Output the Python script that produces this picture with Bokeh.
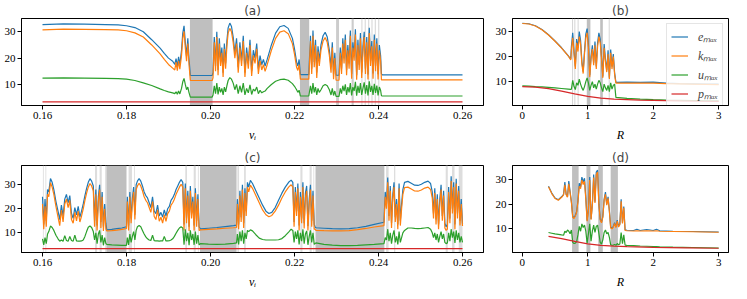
from bokeh.plotting import figure
from bokeh.layouts import row, column
from bokeh.models import Range1d, FixedTicker, Legend, LegendItem, NumeralTickFormatter
from bokeh.embed import file_html
from bokeh.resources import INLINE

C_E, C_K, C_U, C_P = "#1f77b4", "#ff7f0e", "#2ca02c", "#d62728"

# ---------------- panel (a) : vs v_i ----------------
va = ([0.160, 0.165, 0.170, 0.175, 0.178, 0.180, 0.182, 0.184, 0.186, 0.188, 0.189, 0.190, 0.191]
      + [0.1915, 0.1918, 0.1921, 0.1924, 0.1927, 0.1931, 0.1934, 0.1937, 0.1940, 0.1943, 0.1946, 0.1949]
      + [0.1952, 0.2004]
      + [0.2006, 0.2009, 0.2012, 0.2015, 0.2018, 0.2021, 0.2024, 0.2027, 0.2030, 0.2033, 0.2036, 0.2039, 0.2042, 0.2046, 0.2050, 0.2054]
      + [0.2058, 0.2062, 0.2066, 0.2070, 0.2074, 0.2078, 0.2082, 0.2086, 0.2090, 0.2094, 0.2098, 0.2102, 0.2106, 0.2110, 0.2114, 0.2118, 0.2122, 0.2126, 0.2130]
      + [0.2135, 0.2145, 0.2155, 0.2165, 0.2175, 0.2185, 0.2195, 0.2200, 0.2205]
      + [0.2208, 0.2211, 0.2214, 0.2234]
      + [0.2238, 0.2241, 0.2244, 0.2247, 0.2250, 0.2253, 0.2256, 0.2259, 0.2263, 0.2268, 0.2273, 0.2278, 0.2283, 0.2287, 0.2290, 0.2293, 0.2296, 0.2299, 0.2306]
      + [0.2309, 0.2312, 0.2315, 0.2318, 0.2321, 0.2324, 0.2327, 0.2330, 0.2333, 0.2336, 0.2339, 0.2342, 0.2345, 0.2348, 0.2351, 0.2354, 0.2357, 0.2360, 0.2363, 0.2366,
         0.2369, 0.2372, 0.2375, 0.2378, 0.2381, 0.2384, 0.2387, 0.2390, 0.2393, 0.2396, 0.2399, 0.2402, 0.2405, 0.2407]
      + [0.2409, 0.2600])
ea = ([32.7, 33.0, 32.9, 32.7, 32.6, 32.3, 31.6, 30.0, 27.0, 23.8, 21.8, 20.0, 18.8]
      + [17.6, 19.8, 16.9, 20.5, 17.5, 23.0, 29.5, 32.3, 26.0, 20.8, 27.5, 19.5]
      + [13.4, 13.4]
      + [14.5, 28.0, 17.0, 30.0, 15.5, 27.5, 19.0, 24.0, 14.5, 25.5, 18.0, 26.5, 31.5, 33.3, 32.0, 28.0]
      + [22.0, 27.5, 16.5, 26.0, 19.0, 28.5, 14.5, 24.0, 18.0, 27.0, 15.0, 23.0, 20.0, 25.5, 16.0, 21.0, 17.5, 19.5, 17.0]
      + [19.5, 25.0, 29.5, 31.9, 32.4, 31.3, 27.5, 23.5, 18.5]
      + [17.0, 19.5, 13.7, 13.7]
      + [28.5, 16.0, 30.5, 18.5, 27.0, 14.5, 24.5, 19.0, 25.0, 28.5, 29.8, 28.0, 23.0, 16.5, 26.0, 14.0, 22.0, 13.5, 13.5]
      + [24.0, 16.0, 27.5, 20.0, 29.0, 15.5, 25.0, 18.0, 30.5, 14.0, 26.0, 21.0, 31.0, 13.5, 27.0, 17.5, 29.5, 14.5, 24.5, 30.0,
         16.0, 28.0, 13.8, 31.5, 19.0, 26.5, 14.2, 29.0, 17.0, 27.5, 13.9, 25.0, 21.0, 14.0]
      + [13.6, 13.6])
ka = ([30.7, 31.0, 30.9, 30.8, 30.7, 30.4, 29.6, 28.0, 25.0, 21.6, 19.5, 17.6, 16.2]
      + [15.5, 18.5, 15.2, 19.0, 15.8, 21.0, 27.5, 30.2, 24.0, 18.8, 25.5, 17.2]
      + [11.5, 11.5]
      + [12.5, 26.0, 15.0, 28.0, 13.5, 25.5, 17.0, 22.0, 12.8, 23.5, 16.0, 24.5, 29.5, 31.3, 30.0, 26.0]
      + [20.0, 25.5, 14.5, 24.0, 17.0, 26.5, 12.8, 22.0, 16.0, 25.0, 13.2, 21.0, 18.0, 23.5, 14.0, 19.0, 15.5, 17.5, 15.0]
      + [17.5, 23.0, 27.5, 29.9, 30.4, 29.3, 25.5, 21.5, 16.5]
      + [15.3, 17.5, 12.0, 12.0]
      + [26.5, 14.0, 28.5, 16.5, 25.0, 12.5, 22.5, 17.0, 23.0, 26.5, 27.8, 26.0, 21.0, 14.5, 24.0, 12.0, 20.0, 11.6, 11.6]
      + [22.0, 14.0, 25.5, 18.0, 27.0, 13.5, 23.0, 16.0, 28.5, 12.2, 24.0, 19.0, 29.0, 11.8, 25.0, 15.5, 27.5, 12.5, 22.5, 28.0,
         14.0, 26.0, 11.9, 29.5, 17.0, 24.5, 12.2, 27.0, 15.0, 25.5, 11.9, 23.0, 19.0, 11.7]
      + [11.7, 11.7])
ua = ([12.4, 12.5, 12.4, 12.3, 12.2, 12.0, 11.5, 10.6, 9.6, 8.3, 7.7, 7.2, 6.8]
      + [6.5, 7.2, 6.3, 7.5, 6.4, 8.5, 11.0, 12.3, 10.0, 8.0, 9.0, 6.8]
      + [5.2, 5.2]
      + [6.0, 9.5, 6.5, 10.5, 6.2, 9.0, 7.0, 8.5, 6.0, 9.0, 7.2, 9.5, 11.5, 12.6, 12.0, 10.5]
      + [8.0, 10.0, 6.5, 9.5, 7.0, 10.5, 6.0, 8.5, 6.8, 9.8, 6.2, 8.2, 7.5, 9.0, 6.5, 7.8, 6.8, 7.2, 7.5]
      + [8.5, 10.0, 11.2, 11.8, 12.0, 11.6, 10.3, 9.3, 8.0]
      + [7.0, 7.8, 5.6, 5.6]
      + [9.5, 6.5, 10.5, 7.0, 9.0, 6.0, 8.5, 7.0, 8.0, 9.5, 10.0, 9.5, 8.0, 6.0, 8.5, 5.8, 7.5, 5.5, 5.5]
      + [8.5, 6.5, 9.5, 7.5, 10.0, 6.0, 9.0, 7.0, 10.5, 5.8, 9.0, 7.5, 11.0, 5.7, 9.5, 6.8, 10.5, 6.0, 8.5, 10.8,
         6.5, 9.8, 5.8, 11.2, 7.2, 9.5, 6.0, 10.2, 6.8, 9.6, 5.8, 9.0, 7.8, 5.7]
      + [5.6, 5.6])
pa_v = [0.160, 0.260]
pa = [3.4, 3.4]
bands_a_dark = [(0.1951, 0.2005), (0.2213, 0.2235)]
bands_a_mid = [(0.2299, 0.2306), (0.2336, 0.2341)]
bands_a_light = [(0.2359, 0.2362), (0.2367, 0.2370), (0.2375, 0.2378), (0.2383, 0.2386), (0.2391, 0.2394), (0.2399, 0.2402)]

# ---------------- panel (c) : vs v_i ----------------
vc = ([0.1600, 0.1603, 0.1606, 0.1609, 0.1612, 0.1615, 0.1619, 0.1623]
      + [0.1627, 0.1632, 0.1637, 0.1641, 0.1645, 0.1649, 0.1653, 0.1657, 0.1661, 0.1665, 0.1669, 0.1673, 0.1677, 0.1681, 0.1685, 0.1689,
         0.1693, 0.1697, 0.1701, 0.1705, 0.1709, 0.1713, 0.1717, 0.1721]
      + [0.1724, 0.1727, 0.1730, 0.1733, 0.1736, 0.1739, 0.1742, 0.1745, 0.1748, 0.1751]
      + [0.1753, 0.1765, 0.1777, 0.1789, 0.1800]
      + [0.1802, 0.1805, 0.1808, 0.1811, 0.1814, 0.1817, 0.1820, 0.1823, 0.1826, 0.1830]
      + [0.1834, 0.1838, 0.1842, 0.1846, 0.1850, 0.1854, 0.1858, 0.1862, 0.1866, 0.1870, 0.1874, 0.1878, 0.1882, 0.1886, 0.1890, 0.1894,
         0.1898, 0.1902, 0.1906, 0.1910, 0.1914, 0.1918, 0.1922, 0.1926, 0.1930, 0.1934]
      + [0.1937, 0.1940, 0.1943, 0.1946, 0.1949, 0.1952, 0.1955, 0.1958, 0.1961, 0.1964, 0.1967, 0.1970, 0.1973]
      + [0.1976, 0.1995, 0.2015, 0.2035, 0.2055, 0.2062]
      + [0.2064, 0.2067, 0.2070, 0.2073, 0.2076, 0.2079, 0.2082, 0.2085, 0.2088, 0.2091, 0.2095]
      + [0.2100, 0.2108, 0.2116, 0.2124, 0.2132, 0.2139, 0.2146, 0.2154, 0.2162, 0.2170, 0.2178, 0.2186, 0.2192, 0.2196]
      + [0.2199, 0.2202, 0.2205, 0.2208, 0.2211, 0.2214, 0.2217, 0.2220, 0.2223, 0.2226, 0.2229, 0.2232, 0.2235, 0.2238, 0.2241, 0.2244,
         0.2247, 0.2249]
      + [0.2251, 0.2270, 0.2290, 0.2310, 0.2330, 0.2350, 0.2370, 0.2390, 0.2413]
      + [0.2416, 0.2419, 0.2422, 0.2425, 0.2428, 0.2431, 0.2434, 0.2437, 0.2440, 0.2443, 0.2446, 0.2449, 0.2452, 0.2455, 0.2458]
      + [0.2462, 0.2470, 0.2478, 0.2486, 0.2494, 0.2502, 0.2510, 0.2518, 0.2524, 0.2528]
      + [0.2531, 0.2534, 0.2537, 0.2540, 0.2543, 0.2546, 0.2549, 0.2552, 0.2555, 0.2558, 0.2561, 0.2564, 0.2567, 0.2570, 0.2573, 0.2576,
         0.2579, 0.2582, 0.2585, 0.2588, 0.2591, 0.2594, 0.2597, 0.2600])
ec = ([25.0, 13.5, 24.0, 15.0, 28.0, 27.0, 32.6, 31.0]
      + [28.0, 23.0, 19.0, 15.5, 21.5, 17.0, 24.0, 26.0, 22.5, 25.5, 18.0, 16.0, 20.5, 17.5, 21.0, 16.5, 19.0, 22.0, 25.5, 28.5,
         31.0, 32.5, 31.5, 29.5]
      + [15.0, 28.0, 13.0, 25.0, 30.0, 14.5, 27.0, 12.5, 22.0, 14.0]
      + [11.2, 11.4, 11.7, 12.0, 12.5]
      + [25.0, 13.0, 27.0, 16.0, 24.5, 29.0, 17.5, 30.0, 31.5, 32.6]
      + [31.5, 29.5, 27.0, 25.5, 24.5, 22.5, 20.5, 25.0, 19.0, 18.0, 21.5, 17.0, 18.5, 16.5, 19.5, 17.0, 20.0, 21.0, 23.5, 24.5,
         26.0, 28.0, 29.5, 31.0, 32.2, 31.0]
      + [13.5, 30.5, 16.0, 27.5, 12.5, 29.5, 18.0, 25.0, 13.0, 28.5, 15.0, 26.0, 12.5]
      + [11.6, 11.9, 12.2, 12.6, 13.0, 13.2]
      + [24.0, 13.5, 27.5, 16.5, 30.0, 14.0, 28.5, 19.0, 31.0, 29.0, 31.8]
      + [30.5, 27.5, 24.5, 21.5, 19.0, 18.0, 18.5, 20.5, 23.5, 26.5, 29.0, 31.0, 31.9, 31.0]
      + [14.5, 29.0, 19.0, 30.5, 13.0, 27.0, 16.0, 31.0, 14.0, 26.5, 29.5, 12.8, 24.0, 30.0, 15.0, 27.5, 13.5, 12.5]
      + [12.1, 11.9, 11.7, 11.6, 11.7, 12.1, 12.7, 13.5, 14.4]
      + [27.0, 22.0, 33.0, 17.0, 29.5, 14.0, 26.0, 31.0, 16.5, 24.0, 13.5, 30.5, 15.0, 22.0, 28.0]
      + [31.0, 31.4, 30.6, 29.8, 29.7, 30.2, 31.0, 31.5, 30.5, 27.0]
      + [18.0, 28.5, 15.5, 26.0, 13.5, 24.0, 30.0, 17.0, 27.5, 14.0, 12.5, 13.5, 29.0, 16.0, 33.5, 20.0, 31.0, 13.5, 32.5, 18.0,
         29.5, 15.0, 24.0, 13.8])
kc = ([22.0, 11.5, 21.0, 12.5, 26.0, 25.0, 30.8, 29.0]
      + [26.0, 21.0, 16.5, 13.0, 19.5, 14.5, 22.0, 24.0, 20.5, 23.5, 15.5, 14.0, 18.5, 15.0, 19.0, 14.5, 17.0, 20.0, 23.5, 26.5,
         29.0, 30.5, 29.5, 27.5]
      + [12.5, 26.0, 11.0, 23.0, 28.0, 12.0, 25.0, 10.8, 20.0, 11.5]
      + [10.8, 10.9, 11.1, 11.4, 11.8]
      + [23.0, 11.0, 25.0, 14.0, 22.5, 27.0, 15.5, 28.0, 29.5, 30.6]
      + [29.5, 27.5, 25.0, 23.5, 22.5, 20.5, 18.5, 23.0, 16.8, 15.5, 19.5, 14.8, 16.5, 14.0, 17.5, 14.8, 18.0, 19.0, 21.5, 22.5,
         24.0, 26.0, 27.5, 29.0, 30.2, 29.0]
      + [11.0, 28.5, 14.0, 25.5, 10.8, 27.5, 16.0, 23.0, 11.0, 26.5, 12.5, 24.0, 11.0]
      + [11.2, 11.4, 11.6, 11.9, 12.1, 12.2]
      + [22.0, 11.5, 25.5, 14.5, 28.0, 12.0, 26.5, 17.0, 29.0, 27.0, 29.8]
      + [28.5, 25.5, 22.5, 19.5, 17.5, 16.7, 17.2, 19.0, 21.5, 24.5, 27.0, 29.0, 30.0, 29.0]
      + [12.5, 27.0, 17.0, 28.5, 11.0, 25.0, 14.0, 29.0, 11.8, 24.5, 27.5, 11.0, 22.0, 28.0, 12.5, 25.5, 11.5, 11.5]
      + [11.0, 10.9, 10.8, 10.8, 10.9, 11.3, 11.8, 12.4, 13.0]
      + [25.0, 20.0, 31.0, 15.0, 27.5, 12.0, 24.0, 29.0, 14.5, 22.0, 11.5, 28.5, 13.0, 20.0, 26.0]
      + [28.8, 29.0, 28.2, 27.4, 27.3, 27.8, 28.6, 29.0, 28.0, 24.5]
      + [16.0, 26.5, 13.5, 24.0, 11.5, 22.0, 28.0, 15.0, 25.5, 12.0, 11.0, 11.5, 27.0, 14.0, 31.5, 18.0, 29.0, 11.5, 30.5, 16.0,
         27.5, 13.0, 22.0, 12.8])
uc = ([7.5, 5.0, 8.0, 5.5, 9.5, 10.5, 12.8, 12.2]
      + [11.0, 9.0, 7.5, 6.5, 7.0, 6.5, 8.8, 6.8, 6.5, 8.5, 6.8, 6.5, 9.0, 6.6, 6.5, 6.5, 6.6, 7.0, 8.5, 10.5,
         12.3, 12.8, 12.2, 10.5]
      + [7.0, 10.0, 5.5, 9.5, 11.0, 6.0, 9.0, 4.8, 8.0, 5.5]
      + [5.2, 5.0, 4.9, 4.8, 4.8]
      + [8.0, 5.0, 9.5, 6.0, 8.5, 10.5, 7.0, 11.0, 12.5, 13.0]
      + [12.5, 11.0, 9.5, 8.3, 7.5, 7.0, 6.8, 9.0, 6.7, 6.6, 6.6, 6.5, 6.6, 6.6, 8.5, 6.6, 6.6, 6.7, 7.0, 7.5,
         8.5, 9.8, 11.0, 12.0, 12.5, 12.0]
      + [5.0, 11.5, 6.5, 10.0, 4.8, 11.0, 7.0, 9.5, 5.0, 10.5, 5.5, 9.0, 5.0]
      + [5.5, 5.3, 5.2, 5.3, 5.6, 5.8]
      + [9.5, 5.2, 10.5, 6.5, 11.0, 5.5, 10.0, 7.5, 11.0, 10.5, 11.2]
      + [10.8, 9.2, 7.8, 7.2, 7.0, 7.0, 7.0, 7.0, 7.1, 7.6, 8.8, 10.3, 11.5, 11.0]
      + [6.0, 10.5, 7.5, 11.0, 5.2, 10.0, 6.5, 11.5, 5.5, 9.5, 10.8, 5.0, 8.5, 11.0, 6.0, 10.0, 5.2, 5.5]
      + [5.8, 5.2, 4.9, 4.7, 4.7, 4.8, 5.0, 5.2, 5.5]
      + [8.0, 7.0, 11.5, 6.5, 10.0, 5.5, 9.0, 11.0, 6.0, 8.5, 5.2, 10.5, 6.0, 8.0, 10.0]
      + [11.0, 12.0, 12.0, 11.8, 11.7, 11.8, 12.0, 12.2, 11.5, 10.0]
      + [8.0, 10.0, 7.0, 9.5, 6.0, 8.5, 10.5, 7.5, 9.5, 6.0, 5.5, 5.8, 10.0, 6.5, 11.5, 8.0, 10.5, 5.8, 11.0, 7.0,
         10.0, 6.0, 8.5, 6.0])
pc_v = [0.160, 0.260]
pc = [3.4, 3.4]
bands_c_dark = [(0.1752, 0.1800), (0.1975, 0.2062), (0.2250, 0.2414)]
bands_c_light = [(0.1601, 0.1603), (0.1607, 0.1609), (0.1725, 0.1730), (0.1736, 0.1741), (0.1749, 0.1751),
                 (0.1805, 0.1813), (0.1818, 0.1820), (0.1940, 0.1944), (0.1960, 0.1965), (0.1970, 0.1972),
                 (0.2064, 0.2068), (0.2080, 0.2084), (0.2214, 0.2219), (0.2236, 0.2241), (0.2245, 0.2247),
                 (0.2418, 0.2424), (0.2437, 0.2440), (0.2560, 0.2565), (0.2575, 0.2581), (0.2591, 0.2600)]

# ---------------- panel (b) : vs R ----------------
rb = ([0.0, 0.1, 0.2, 0.3, 0.4, 0.5, 0.6, 0.7, 0.74]
      + [0.75, 0.77, 0.79, 0.81, 0.83, 0.85, 0.87, 0.89, 0.91, 0.93, 0.95, 0.97, 0.99, 1.01, 1.03, 1.05, 1.07, 1.09, 1.11, 1.13,
         1.15, 1.17, 1.19, 1.21, 1.23, 1.25, 1.27, 1.29, 1.31, 1.33, 1.35, 1.37, 1.39, 1.41]
      + [1.43, 1.6, 1.8, 2.0, 2.2, 2.4, 2.6, 2.8, 3.0])
eb = ([33.3, 33.1, 32.3, 30.8, 28.7, 26.2, 23.5, 20.4, 19.0]
      + [24.0, 29.5, 22.0, 16.0, 27.0, 23.5, 30.0, 26.5, 18.0, 14.0, 22.0, 29.0, 31.2, 25.0, 12.5, 20.0, 24.5, 17.5, 26.0, 16.0,
         25.5, 29.5, 27.0, 20.0, 12.0, 25.0, 19.0, 14.5, 22.5, 11.5, 22.8, 16.0, 21.0, 13.5]
      + [9.7, 9.8, 9.7, 9.8, 9.4, 9.2, 9.1, 9.0, 9.0])
kb = ([33.2, 33.0, 32.2, 30.7, 28.6, 26.1, 23.4, 20.3, 18.6]
      + [22.5, 27.5, 21.0, 15.0, 25.5, 22.0, 28.0, 25.0, 17.0, 13.2, 21.0, 27.5, 29.5, 23.5, 11.8, 19.0, 23.0, 16.5, 24.5, 15.0,
         24.0, 28.0, 25.5, 19.0, 11.5, 23.5, 18.0, 13.8, 21.0, 11.0, 21.5, 15.0, 20.0, 12.8]
      + [9.4, 9.4, 9.4, 9.4, 9.2, 9.1, 9.0, 8.9, 8.8])
ub = ([8.3, 8.2, 8.0, 7.9, 7.7, 7.5, 7.25, 7.0, 6.9]
      + [7.0, 10.5, 8.0, 6.8, 9.5, 8.5, 11.0, 9.0, 7.5, 6.5, 8.0, 10.0, 11.5, 9.5, 6.5, 8.5, 10.0, 7.5, 9.0, 7.0,
         9.0, 10.5, 9.5, 7.5, 6.0, 9.0, 7.5, 6.5, 8.5, 6.0, 9.5, 7.0, 8.5, 9.0]
      + [3.7, 3.3, 3.0, 2.8, 2.65, 2.55, 2.45, 2.35, 2.3])
pb_r = [0.0, 0.2, 0.4, 0.6, 0.8, 1.0, 1.2, 1.4, 1.6, 1.8, 2.0, 2.4, 2.8, 3.0]
pb = [8.0, 7.8, 7.2, 6.2, 5.1, 4.1, 3.4, 3.0, 2.8, 2.6, 2.5, 2.3, 2.15, 2.1]
bands_b_dark = [(0.985, 1.04), (1.19, 1.23)]
bands_b_light = [(0.76, 0.775), (0.795, 0.81), (0.845, 0.86), (1.32, 1.335)]

# ---------------- panel (d) : vs R ----------------
rd = [0.40, 0.45, 0.50, 0.55, 0.60, 0.63, 0.65, 0.67, 0.69, 0.71, 0.73, 0.75, 0.77, 0.79, 0.81, 0.83, 0.85, 0.87, 0.89, 0.91,
      0.93, 0.95, 0.97, 0.99, 1.01, 1.03, 1.05, 1.07, 1.09, 1.11, 1.13, 1.15, 1.17, 1.19, 1.21, 1.23, 1.25, 1.27, 1.29, 1.31,
      1.33, 1.35, 1.37, 1.39, 1.41, 1.43, 1.45, 1.47, 1.49, 1.51, 1.53, 1.55, 1.57, 1.60, 1.70, 1.75, 1.80, 1.90, 2.00, 2.05,
      2.10, 2.30, 2.60, 3.00]
ed = [27.3, 24.5, 22.5, 21.8, 23.0, 24.0, 29.0, 24.0, 23.0, 29.4, 25.0, 21.0, 15.0, 14.5, 15.5, 17.0, 21.5, 28.5, 27.0, 31.0,
      29.0, 30.5, 22.7, 13.4, 18.0, 31.0, 14.0, 20.0, 32.0, 21.0, 33.0, 33.8, 20.0, 14.0, 12.7, 15.0, 22.0, 24.9, 20.0, 23.0,
      17.4, 10.6, 10.2, 11.0, 12.5, 10.8, 13.5, 11.0, 12.0, 22.0, 12.5, 19.0, 9.6, 9.4, 9.3, 9.8, 9.3, 9.7, 9.3, 9.8,
      9.2, 9.0, 8.9, 8.7]
kd = [27.1, 24.3, 22.3, 21.6, 22.8, 23.8, 27.8, 23.8, 22.8, 28.3, 24.6, 20.7, 14.7, 14.2, 15.2, 16.7, 21.0, 27.3, 26.3, 29.8,
      28.0, 29.3, 22.0, 13.1, 17.6, 29.8, 13.7, 19.5, 30.8, 20.5, 32.0, 33.0, 19.6, 13.7, 12.4, 14.7, 21.5, 24.0, 19.6, 22.4,
      17.0, 10.3, 10.0, 10.7, 12.2, 10.5, 13.1, 10.7, 11.7, 21.2, 12.2, 18.5, 9.3, 9.2, 9.1, 9.2, 9.1, 9.2, 9.1, 9.2,
      9.0, 8.9, 8.8, 8.6]
ud = [8.5, 8.2, 7.9, 7.7, 7.5, 7.4, 9.0, 8.5, 9.5, 9.0, 8.0, 9.5, 4.5, 4.0, 4.2, 4.8, 7.5, 11.0, 9.0, 12.0,
      10.5, 11.5, 9.0, 4.2, 8.0, 12.0, 5.0, 9.0, 11.5, 8.5, 11.0, 11.5, 8.0, 4.5, 3.8, 5.5, 8.5, 9.5, 8.0, 8.5,
      6.5, 3.5, 3.3, 3.4, 3.6, 3.3, 4.0, 3.5, 3.8, 8.5, 4.0, 7.5, 3.4, 3.3, 3.2, 3.1, 3.0, 2.9, 2.8, 2.75,
      2.7, 2.55, 2.4, 2.2]
pd_r = [0.4, 0.6, 0.8, 1.0, 1.2, 1.4, 1.6, 2.0, 2.5, 3.0]
pd_ = [6.9, 6.0, 4.9, 3.9, 3.3, 2.95, 2.75, 2.45, 2.25, 2.1]
bands_d_dark = [(0.76, 0.86), (0.98, 1.04), (1.16, 1.23), (1.35, 1.46)]

vi_ticks = [0.16, 0.18, 0.20, 0.22, 0.24, 0.26]
r_ticks = [0, 1, 2, 3]
y_ticks = [10, 20, 30]

SERIF = "'Liberation Serif', 'Times New Roman', serif"


def make_fig(title, xr, yr, xticks, xfmt, xlabel, fw, bl, br, bt, bb):
    p = figure(frame_width=fw, frame_height=87, x_range=Range1d(*xr), y_range=Range1d(*yr),
               output_backend="svg", toolbar_location=None, title=title,
               min_border_left=bl, min_border_right=br, min_border_top=bt, min_border_bottom=bb)
    p.title.align = "center"
    p.title.text_font = "DejaVu Sans"
    p.title.text_font_size = "12px"
    p.title.text_font_style = "normal"
    p.title.standoff = 2
    p.grid.visible = False
    p.outline_line_color = "black"
    p.outline_line_width = 1
    p.outline_line_alpha = 1
    p.background_fill_color = "white"
    p.border_fill_color = "white"
    p.xaxis.ticker = FixedTicker(ticks=xticks)
    p.yaxis.ticker = FixedTicker(ticks=y_ticks)
    p.xaxis.formatter = NumeralTickFormatter(format=xfmt)
    p.yaxis.formatter = NumeralTickFormatter(format="0")
    for ax in (p.xaxis, p.yaxis):
        ax.axis_line_color = "black"
        ax.major_tick_line_color = "black"
        ax.major_tick_out = 4
        ax.major_tick_in = 0
        ax.minor_tick_line_color = None
        ax.major_label_text_font = SERIF
        ax.major_label_text_font_size = "11px"
        ax.major_label_text_color = "black"
        ax.major_label_standoff = 2
    p.xaxis.axis_label = xlabel
    p.xaxis.axis_label_text_font = SERIF
    p.xaxis.axis_label_text_font_style = "italic"
    p.xaxis.axis_label_text_font_size = "12px"
    p.xaxis.axis_label_text_color = "black"
    p.xaxis.axis_label_standoff = 6
    return p


def add_bands(p, bands, color, yr):
    if bands:
        p.quad(left=[b[0] for b in bands], right=[b[1] for b in bands],
               bottom=yr[0], top=yr[1], fill_color=color, line_color=None)


def add_lines(p, x, e, k, u, xp, pp):
    r1 = p.line(x, e, color=C_E, line_width=1.2)
    r2 = p.line(x, k, color=C_K, line_width=1.2)
    r3 = p.line(x, u, color=C_U, line_width=1.2)
    r4 = p.line(xp, pp, color=C_P, line_width=1.2)
    return r1, r2, r3, r4


yra = (2.0, 35.05)
pa_fig = make_fig("(a)", (0.155, 0.265), yra, vi_ticks, "0.00", "vᵢ", 462, 21, 5, 18, 42)
add_bands(pa_fig, bands_a_light, "#dddddd", yra)
add_bands(pa_fig, bands_a_mid, "#cccccc", yra)
add_bands(pa_fig, bands_a_dark, "#bfbfbf", yra)
add_lines(pa_fig, va, ea, ka, ua, pa_v, pa)

yrb = (0.45, 35.2)
pb_fig = make_fig("(b)", (-0.15, 3.15), yrb, r_ticks, "0", "R", 216, 24, 6, 18, 42)
add_bands(pb_fig, bands_b_light, "#d4d4d4", yrb)
add_bands(pb_fig, bands_b_dark, "#bfbfbf", yrb)
rs = add_lines(pb_fig, rb, eb, kb, ub, pb_r, pb)
labels = ["eₘₐₓ", "kₘₐₓ", "uₘₐₓ", "pₘₐₓ"]
leg = Legend(items=[LegendItem(label=l, renderers=[r]) for l, r in zip(labels, rs)], location="top_right")
leg.label_text_font = SERIF
leg.label_text_font_style = "italic"
leg.label_text_font_size = "12px"
leg.glyph_width = 17
leg.glyph_height = 13
leg.label_height = 13
leg.spacing = 2
leg.padding = 4
leg.margin = 5
leg.label_standoff = 10
leg.border_line_color = "#cccccc"
leg.background_fill_alpha = 0.8
pb_fig.add_layout(leg)

yrc = (1.8, 38.0)
pc_fig = make_fig("(c)", (0.155, 0.265), yrc, vi_ticks, "0.00", "vᵢ", 462, 21, 5, 15, 34)
add_bands(pc_fig, bands_c_light, "#dddddd", yrc)
add_bands(pc_fig, bands_c_dark, "#bfbfbf", yrc)
add_lines(pc_fig, vc, ec, kc, uc, pc_v, pc)

yrd = (0.37, 35.7)
pd_fig = make_fig("(d)", (-0.15, 3.15), yrd, r_ticks, "0", "R", 216, 24, 6, 15, 34)
add_bands(pd_fig, bands_d_dark, "#bfbfbf", yrd)
add_lines(pd_fig, rd, ed, kd, ud, pd_r, pd_)

layout = column(row(pa_fig, pb_fig), row(pc_fig, pd_fig))
open("out.html", "w").write(file_html(layout, INLINE))
